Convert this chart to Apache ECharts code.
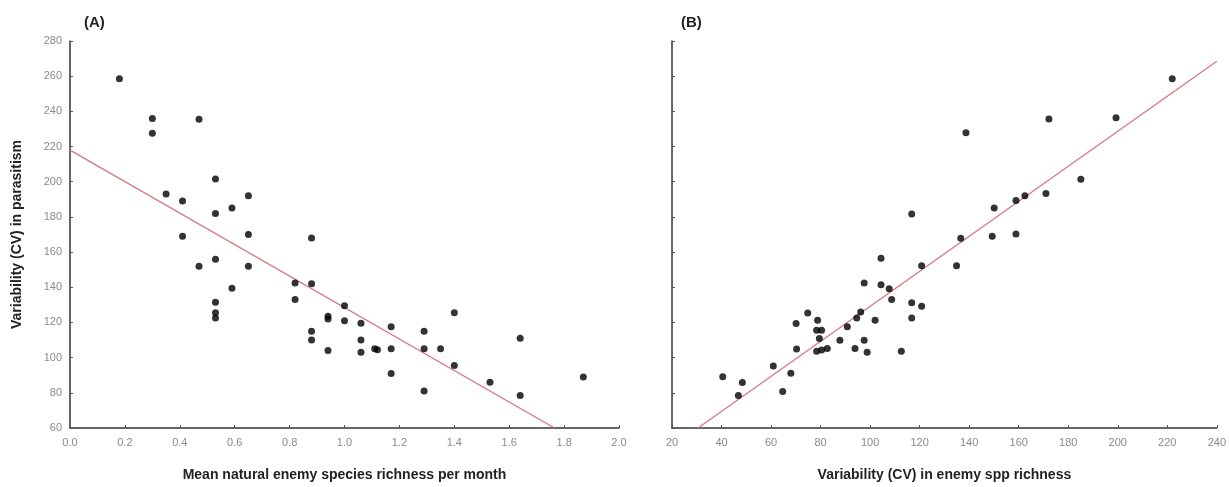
<!DOCTYPE html>
<html>
<head>
<meta charset="utf-8">
<script src="https://cdn.jsdelivr.net/npm/echarts@6/dist/echarts.min.js"></script>
<style>
  html, body { margin: 0; padding: 0; background: #fff; }
  #chart { width: 1229px; height: 487px; }
</style>
</head>
<body>
<div id="chart"></div>
<script>
// (A) mean natural enemy species richness per month vs. variability in parasitism
const richnessA = [0.18, 0.30, 0.30, 0.47, 0.53, 0.35, 0.41, 0.53, 0.59, 0.65, 0.41, 0.65, 0.88, 0.47, 0.53, 0.65, 0.59, 0.53, 0.53, 0.53, 0.82, 0.82, 0.88, 0.88, 0.88, 1.00, 0.94, 0.94, 1.00, 1.06, 1.06, 0.94, 1.06, 1.11, 1.12, 1.17, 1.17, 1.17, 1.29, 1.29, 1.29, 1.35, 1.40, 1.40, 1.53, 1.64, 1.64, 1.87];
const parasitismA = [258.5, 236, 227.5, 235.5, 201.5, 193, 189, 182, 185, 192, 169, 170, 168, 152, 156, 152, 139.5, 131.5, 125.5, 122.5, 142.5, 133, 142, 115, 110, 129.5, 122, 123.5, 121, 119.5, 110, 104, 103, 105, 104.5, 117.5, 105, 91, 115, 105, 81, 105, 125.5, 95.5, 86, 111, 78.5, 89];
const fitLineA = [[0, 218], [1.765, 60]];

// (B) variability in enemy spp richness vs. variability in parasitism
const richnessCVB = [222.0, 199.3, 172.2, 138.7, 185.1, 171.0, 158.9, 162.5, 150.1, 136.6, 149.3, 158.9, 116.8, 134.9, 120.8, 120.8, 104.4, 97.6, 104.4, 107.7, 108.7, 116.8, 116.8, 102.0, 96.2, 94.6, 90.8, 87.8, 97.6, 98.8, 93.9, 112.6, 74.8, 78.8, 78.4, 80.4, 79.5, 70.1, 70.3, 78.4, 80.4, 82.7, 60.9, 68.0, 64.7, 40.5, 48.4, 46.8];
const parasitismB = [258.5, 236.3, 235.7, 227.8, 201.4, 193.3, 189.3, 192, 185, 167.8, 169, 170.3, 181.6, 152.3, 152.3, 129.2, 156.5, 142.4, 141.4, 139.2, 133.1, 131.2, 122.6, 121.2, 126, 122.6, 117.5, 109.9, 109.9, 103, 105.2, 103.7, 125.4, 121.2, 115.6, 115.6, 110.9, 119.4, 104.9, 103.7, 104.3, 105.2, 95.3, 91.1, 80.7, 89.2, 85.8, 78.5];
const fitLineB = [[30.5, 60], [240, 268.5]];

// axis tick values
const yTicks = { min: 60, max: 280, step: 20 };
const xTicksA = { min: 0, max: 2, step: 0.2 };
const xTicksB = { min: 20, max: 240, step: 20 };

const pairs = (xs, ys) => xs.map((x, i) => [x, ys[i]]);

const FONT = '"Liberation Sans", Arial, sans-serif';
const axisLineStyle = { color: '#333', width: 1.5 };
const tickLabel = { color: '#8a8a8a', fontSize: 11, fontFamily: FONT };
const axisTitle = { color: '#222', fontSize: 14, fontWeight: 'bold', fontFamily: FONT };

function xAxis(gridIndex, t, name, fmt) {
  return {
    type: 'value', gridIndex, min: t.min, max: t.max, interval: t.step,
    name, nameLocation: 'middle', nameGap: 40, nameTextStyle: axisTitle,
    axisLine: { show: true, lineStyle: axisLineStyle },
    axisTick: { show: true, inside: true, length: 3, lineStyle: { color: '#555' } },
    axisLabel: Object.assign({ margin: 9, formatter: fmt }, tickLabel),
    splitLine: { show: false }
  };
}
function yAxis(gridIndex, t, name, showLabels) {
  return {
    type: 'value', gridIndex, min: t.min, max: t.max, interval: t.step,
    name, nameLocation: 'middle', nameGap: 46, nameTextStyle: axisTitle,
    axisLine: { show: true, lineStyle: axisLineStyle },
    axisTick: { show: true, inside: true, length: 3, lineStyle: { color: '#555' } },
    axisLabel: Object.assign({ show: showLabels, margin: 8 }, tickLabel),
    splitLine: { show: false }
  };
}

const dotStyle = { color: '#000' };
const fitStyle = { color: '#d4787c', width: 1.3 };

const chart = echarts.init(document.getElementById('chart'), null, { renderer: 'canvas' });
chart.setOption({
  animation: false,
  backgroundColor: '#ffffff',
  grid: [
    { left: 70, top: 41, width: 549, height: 388 },
    { left: 672, top: 41, width: 545, height: 388 }
  ],
  xAxis: [
    xAxis(0, xTicksA, 'Mean natural enemy species richness per month', v => v.toFixed(1)),
    xAxis(1, xTicksB, 'Variability (CV) in enemy spp richness', v => String(v))
  ],
  yAxis: [
    yAxis(0, yTicks, 'Variability (CV) in parasitism', true),
    yAxis(1, yTicks, '', false)
  ],
  graphic: [
    { type: 'text', left: 84, top: 15, style: { text: '(A)', fontSize: 15, fontWeight: 'bold', fontFamily: FONT, fill: '#222' } },
    { type: 'text', left: 681, top: 15, style: { text: '(B)', fontSize: 15, fontWeight: 'bold', fontFamily: FONT, fill: '#222' } }
  ],
  series: [
    { type: 'line', xAxisIndex: 0, yAxisIndex: 0, data: fitLineA, symbol: 'none', lineStyle: fitStyle, z: 1 },
    { type: 'scatter', xAxisIndex: 0, yAxisIndex: 0, data: pairs(richnessA, parasitismA), symbolSize: 7, itemStyle: dotStyle, z: 2 },
    { type: 'line', xAxisIndex: 1, yAxisIndex: 1, data: fitLineB, symbol: 'none', lineStyle: fitStyle, z: 1 },
    { type: 'scatter', xAxisIndex: 1, yAxisIndex: 1, data: pairs(richnessCVB, parasitismB), symbolSize: 7, itemStyle: dotStyle, z: 2 }
  ]
});
</script>
</body>
</html>
